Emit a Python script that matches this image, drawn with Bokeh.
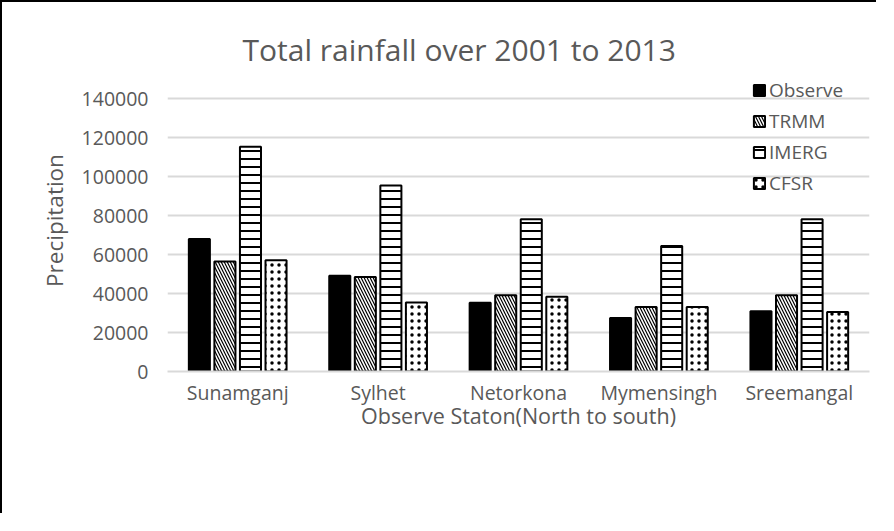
from bokeh.plotting import figure
from bokeh.models import (FactorRange, Range1d, FixedTicker, BasicTickFormatter,
                          Legend, LegendItem, ColumnDataSource)
from bokeh.transform import dodge
from bokeh.embed import file_html
from bokeh.resources import INLINE

# ---- data ----
stations = ["Sunamganj", "Sylhet", "Netorkona", "Mymensingh", "Sreemangal"]
observe = [68000, 49200, 35300, 27400, 30900]
trmm = [56400, 48500, 39100, 33100, 39100]
imerg = [115400, 95500, 78200, 64400, 78200]
cfsr = [57100, 35400, 38400, 33100, 30500]
series_names = ["Observe", "TRMM", "IMERG", "CFSR"]
y_ticks = [0, 20000, 40000, 60000, 80000, 100000, 120000, 140000]
title_text = "Total rainfall over 2001 to 2013"
x_title = "Observe Staton(North to south)"
y_title = "Precipitation"

FONT = "Open Sans"
GREY = "#595959"

src = ColumnDataSource(dict(station=stations, Observe=observe, TRMM=trmm,
                            IMERG=imerg, CFSR=cfsr))

p = figure(width=876, height=513, output_backend="svg", toolbar_location=None,
           x_range=FactorRange(*stations), y_range=Range1d(0, 155000),
           min_border_left=165, min_border_right=9, min_border_top=67,
           min_border_bottom=144,
           styles={"border-left": "2px solid #000", "border-top": "2px solid #000"})
p.outline_line_color = None
p.background_fill_color = "white"
p.border_fill_color = "white"

p.title.text = title_text
p.title.align = "left"
p.title.offset = 75
p.title.standoff = 0
p.title.text_font = FONT
p.title.text_font_size = "30px"
p.title.text_font_style = "normal"
p.title.text_color = GREY

offsets = [-0.273, -0.091, 0.091, 0.273]
styles = [
    dict(fill_color="black"),
    dict(fill_color="white", hatch_pattern="\\", hatch_color="black", hatch_scale=6, hatch_weight=1.2),
    dict(fill_color="white", hatch_pattern="-", hatch_color="black", hatch_scale=8, hatch_weight=2),
    dict(fill_color="white", hatch_pattern=".", hatch_color="black", hatch_scale=7, hatch_weight=3),
]
items = []
for name, off, st in zip(series_names, offsets, styles):
    r = p.vbar(x=dodge("station", off, range=p.x_range), top=name, width=0.15,
               source=src, line_color="black", line_width=2, **st)
    items.append(LegendItem(label=name, renderers=[r]))

legend = Legend(items=items, location=(585, 175), padding=0, margin=0,
                spacing=5, glyph_width=14, glyph_height=14, label_height=20,
                label_standoff=3, background_fill_alpha=0, border_line_alpha=0,
                label_text_font=FONT, label_text_font_size="19px",
                label_text_color=GREY)
p.add_layout(legend)

p.xgrid.grid_line_color = None
p.ygrid.grid_line_color = "#d9d9d9"
p.ygrid.grid_line_width = 2

p.yaxis.ticker = FixedTicker(ticks=y_ticks)
p.yaxis.formatter = BasicTickFormatter(use_scientific=False)
for ax in (p.xaxis[0], p.yaxis[0]):
    ax.major_tick_line_color = None
    ax.minor_tick_line_color = None
    ax.major_label_text_font = FONT
    ax.major_label_text_color = GREY
    ax.axis_label_text_font = FONT
    ax.axis_label_text_color = GREY
    ax.axis_label_text_font_style = "normal"

p.yaxis.axis_line_color = None
p.yaxis.major_label_text_font_size = "19.5px"
p.yaxis.major_label_standoff = 13
p.yaxis.axis_label = y_title
p.yaxis.axis_label_text_font_size = "22.5px"
p.yaxis.axis_label_standoff = 9

p.xaxis.axis_line_color = "#d9d9d9"
p.xaxis.axis_line_width = 2
p.xaxis.major_label_text_font_size = "19.5px"
p.xaxis.major_label_standoff = 1
p.xaxis.axis_label = x_title
p.xaxis.axis_label_text_font_size = "21.5px"
p.xaxis.axis_label_standoff = -8

open("out.html", "w").write(file_html(p, INLINE))
